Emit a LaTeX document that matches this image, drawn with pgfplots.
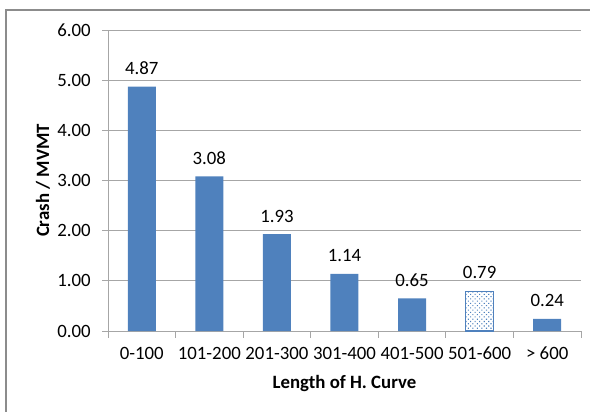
\documentclass[border=0pt]{standalone}
\usepackage{fontspec}
\setmainfont{Carlito}
\usepackage{pgfplots}
\pgfplotsset{compat=1.18}
\usetikzlibrary{patterns.meta}
\definecolor{barblue}{HTML}{4F81BD}
\definecolor{gridgray}{HTML}{A6A6A6}
\definecolor{framegray}{HTML}{8C8C8C}
\newcommand{\chartfont}{\fontsize{18.8bp}{22bp}\selectfont}
\begin{document}
\begin{tikzpicture}
\useasboundingbox (-108bp,-81bp) rectangle (482bp,331bp);
\draw[framegray, line width=1.5bp] (490bp,321bp) -- (-102bp,321bp) -- (-102bp,-90bp);
\begin{axis}[
  at={(0,0)}, anchor=south west,
  scale only axis, width=473bp, height=301bp,
  xmin=-0.5, xmax=6.5, ymin=0, ymax=6,
  axis x line*=bottom, axis y line*=left,
  axis line style={gridgray, line width=0.8bp},
  ytick={0,1,2,3,4,5,6},
  xtick={0,1,2,3,4,5,6},
  xticklabels={0-100,101-200,201-300,301-400,401-500,501-600,{> 600}},
  minor xtick={-0.5,0.5,1.5,2.5,3.5,4.5,5.5,6.5},
  major x tick style={draw=none},
  minor x tick style={gridgray, line width=0.8bp},
  major y tick style={gridgray, line width=0.8bp},
  tick align=outside,
  major tick length=5.5bp, minor tick length=6.5bp,
  ymajorgrids, grid style={gridgray, line width=0.8bp},
  /pgf/number format/.cd, fixed, precision=2, zerofill, assume math mode=true,
  /pgfplots/.cd,
  yticklabel style={font=\chartfont, anchor=east, inner sep=0pt, xshift=-11.7bp},
  xticklabel style={font=\chartfont, anchor=north, inner sep=0pt, yshift=-10.5bp},
  xlabel={Length of H. Curve},
  ylabel={Crash / MVMT},
  every axis x label/.style={at={(axis description cs:0.5,-0.1740)}, anchor=center, font=\chartfont\bfseries},
  every axis y label/.style={at={(axis description cs:-0.1374,0.5)}, anchor=center, rotate=90, font=\chartfont\bfseries},
  ybar, bar width=28bp,
  nodes near coords={\pgfmathprintnumber[fixed,zerofill,precision=2,assume math mode=true]{\pgfplotspointmeta}},
  every node near coord/.append style={font=\chartfont, text=black, anchor=south, inner sep=0pt, yshift=11.7bp},
]
\addplot[bar shift=0pt, fill=barblue, draw=none] coordinates {
  (0,4.87) (1,3.08) (2,1.93) (3,1.14) (4,0.65) (6,0.24)
};
\addplot[bar shift=0pt, draw=barblue, line width=1.2bp,
  pattern={Dots[distance=3.2bp, angle=45, radius=0.75bp]}, pattern color=barblue] coordinates {
  (5,0.79)
};
\end{axis}
\end{tikzpicture}
\end{document}
